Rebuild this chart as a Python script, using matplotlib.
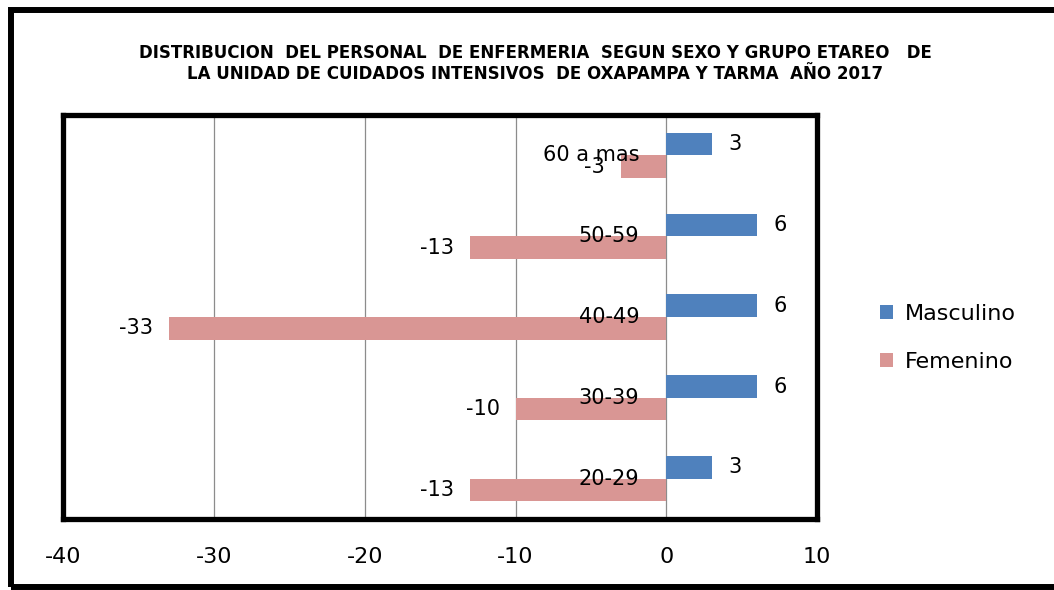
import matplotlib
matplotlib.use("Agg")
import matplotlib.pyplot as plt
import numpy as np
from matplotlib.patches import Rectangle

# datos
grupos = ["20-29", "30-39", "40-49", "50-59", "60 a mas"]
masculino = [3, 6, 6, 6, 3]
femenino = [-13, -10, -33, -13, -3]
xticks = [-40, -30, -20, -10, 0, 10]
titulo = ("DISTRIBUCION  DEL PERSONAL  DE ENFERMERIA  SEGUN SEXO Y GRUPO ETAREO   DE\n"
          "LA UNIDAD DE CUIDADOS INTENSIVOS  DE OXAPAMPA Y TARMA  AÑO 2017")

azul = "#4F81BD"
rosa = "#D99694"
fuente = ["DejaVu Sans"]

fig = plt.figure(figsize=(10.54, 5.90), dpi=100)
ax = fig.add_axes([0.0598, 0.1203, 0.7155, 0.6847])

y = np.arange(len(grupos))
h = 0.28
ax.barh(y + h / 2, masculino, height=h, color=azul, label="Masculino", zorder=3)
ax.barh(y - h / 2, femenino, height=h, color=rosa, label="Femenino", zorder=3)

# etiquetas de datos
for yi, v in zip(y, masculino):
    ax.annotate(str(v), (v, yi + h / 2), xytext=(17, 0), textcoords="offset pixels",
                ha="left", va="center", fontsize=15, family=fuente, zorder=5)
for yi, v in zip(y, femenino):
    ax.annotate(str(v), (v, yi - h / 2), xytext=(-16, 0), textcoords="offset pixels",
                ha="right", va="center", fontsize=15, family=fuente, zorder=5)

# etiquetas de categoria junto al eje en 0
for yi, g in zip(y, grupos):
    ax.annotate(g, (0, yi), xytext=(-27, 0), textcoords="offset pixels",
                ha="right", va="center", fontsize=15, family=fuente, zorder=4)

ax.set_xlim(-40, 10)
ax.set_ylim(-0.5, len(grupos) - 0.5)
ax.set_xticks(xticks)
ax.set_xticklabels([str(t) for t in xticks], fontsize=16, family=fuente)
ax.set_yticks([])
ax.tick_params(axis="x", length=0, pad=20)
ax.grid(axis="x", color="#8C8C8C", linewidth=0.9, zorder=0)
for s in ax.spines.values():
    s.set_linewidth(3.8)
    s.set_color("black")

leg = fig.legend(loc="center left", bbox_to_anchor=(0.816, 0.427), frameon=False,
                 prop={"family": fuente, "size": 16}, handlelength=0.6, handleheight=0.6,
                 labelspacing=1.25, handletextpad=0.5)

fig.text(0.508, 0.892, titulo, ha="center", va="center", fontsize=12,
         fontweight="bold", family=fuente, linespacing=1.25)

# borde exterior (recortado a la derecha y abajo como en la imagen)
fig.patches.append(Rectangle((0.0104, 0.005), 0.992, 0.978, transform=fig.transFigure,
                             fill=False, edgecolor="black", linewidth=4.3))

fig.savefig("out.png", dpi=100)
